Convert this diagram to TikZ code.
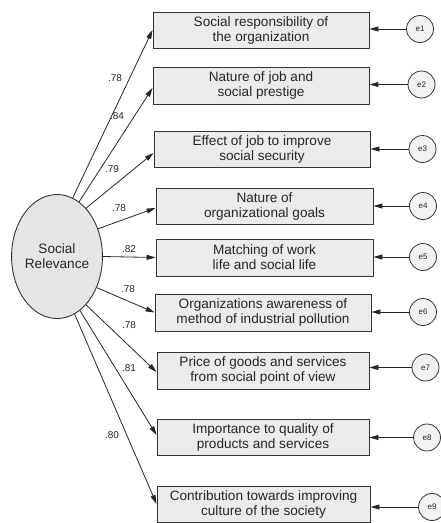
\documentclass[tikz,border=0pt]{standalone}
\usepackage{fontspec}
\setmainfont{Liberation Sans}
\usetikzlibrary{shapes.geometric,arrows.meta}

\tikzset{
  itembox/.style={draw=black!80, fill=black!8, line width=0.9pt, rectangle,
    align=center, inner sep=0pt, text=black!85,
    font=\fontsize{13.6}{15}\selectfont},
  latent/.style={draw=black!80, fill=black!10, line width=0.9pt, ellipse,
    minimum width=90pt, minimum height=124pt, inner sep=0pt, align=center,
    text=black!85, font=\fontsize{13.6}{15}\selectfont},
  errnode/.style={draw=black!80, fill=black!5, line width=0.8pt, circle,
    minimum size=27pt, inner sep=0pt, text=black!85,
    font=\fontsize{8}{9}\selectfont},
  loading/.style={text=black!85, inner sep=0pt, font=\fontsize{10}{11}\selectfont},
  arr/.style={draw=black!85, line width=0.8pt, -{Triangle[length=9pt,width=5pt]}}
}

\begin{document}
\begin{tikzpicture}[x=1pt,y=-1pt]
\useasboundingbox (0,0) rectangle (441,523);
\clip (0,0) rectangle (441,523);

% latent factor
\node[latent] (rel) at (57,256.5) {Social\\Relevance};

% observed indicators
\node[itembox, minimum width=216pt, minimum height=36pt] (b1) at (261,30)
  {Social responsibility of\\the organization};
\node[itembox, minimum width=216pt, minimum height=37pt] (b2) at (261,85.5)
  {Nature of job and\\social prestige};
\node[itembox, minimum width=216pt, minimum height=36pt] (b3) at (262,149)
  {Effect of job to improve\\social security};
\node[itembox, minimum width=217pt, minimum height=36pt] (b4) at (264.5,206)
  {Nature of\\organizational goals};
\node[itembox, minimum width=217pt, minimum height=37pt] (b5) at (264.5,257.5)
  {Matching of work\\life and social life};
\node[itembox, minimum width=216pt, minimum height=37pt] (b6) at (263,312.5)
  {Organizations awareness of\\method of industrial pollution};
\node[itembox, minimum width=212pt, minimum height=37pt] (b7) at (263,370.5)
  {Price of goods and services\\from social point of view};
\node[itembox, minimum width=212pt, minimum height=36pt] (b8) at (263,437)
  {Importance to quality of\\products and services};
\node[itembox, minimum width=213pt, minimum height=36pt] (b9) at (263.5,504)
  {Contribution towards improving\\culture of the society};

% error terms
\node[errnode] (e1) at (420,29) {e1};
\node[errnode] (e2) at (421.5,84.5) {e2};
\node[errnode] (e3) at (422.5,149) {e3};
\node[errnode] (e4) at (423,206) {e4};
\node[errnode] (e5) at (423,257) {e5};
\node[errnode] (e6) at (423,312) {e6};
\node[errnode] (e7) at (425.5,367.5) {e7};
\node[errnode] (e8) at (427,437.5) {e8};
\node[errnode] (e9) at (432,507) {e9};

% factor loadings
\draw[arr] (rel.75.2)  -- (b1.west);
\draw[arr] (rel.68.5)  -- ([yshift=-2.5pt]b2.west);
\draw[arr] (rel.59)    -- ([yshift=-4pt]b3.west);
\draw[arr] (rel.34.5)  -- ([yshift=-2pt]b4.west);
\draw[arr] (rel.0)     -- (b5.west);
\draw[arr] (rel.-38.4) -- (b6.west);
\draw[arr] (rel.-59.3) -- ([yshift=-1.5pt]b7.west);
\draw[arr] (rel.-67.5) -- ([yshift=2pt]b8.west);
\draw[arr] (rel.-73.8) -- (b9.west);

% error paths
\foreach \i in {1,...,9}
  \draw[arr] (e\i.west) -- (e\i.west -| b\i.east);

% loading values
\node[loading] (l1) at (115,78)  {.78};
\node[loading] (l2) at (117,116) {.84};
\node[loading] (l3) at (112,169) {.79};
\node[loading] (l4) at (119,208) {.78};
\node[loading] (l5) at (129,249) {.82};
\node[loading] (l6) at (128,289) {.78};
\node[loading] (l7) at (129,325) {.78};
\node[loading] (l8) at (129,368) {.81};
\node[loading] (l9) at (112,435) {.80};
\end{tikzpicture}
\end{document}
